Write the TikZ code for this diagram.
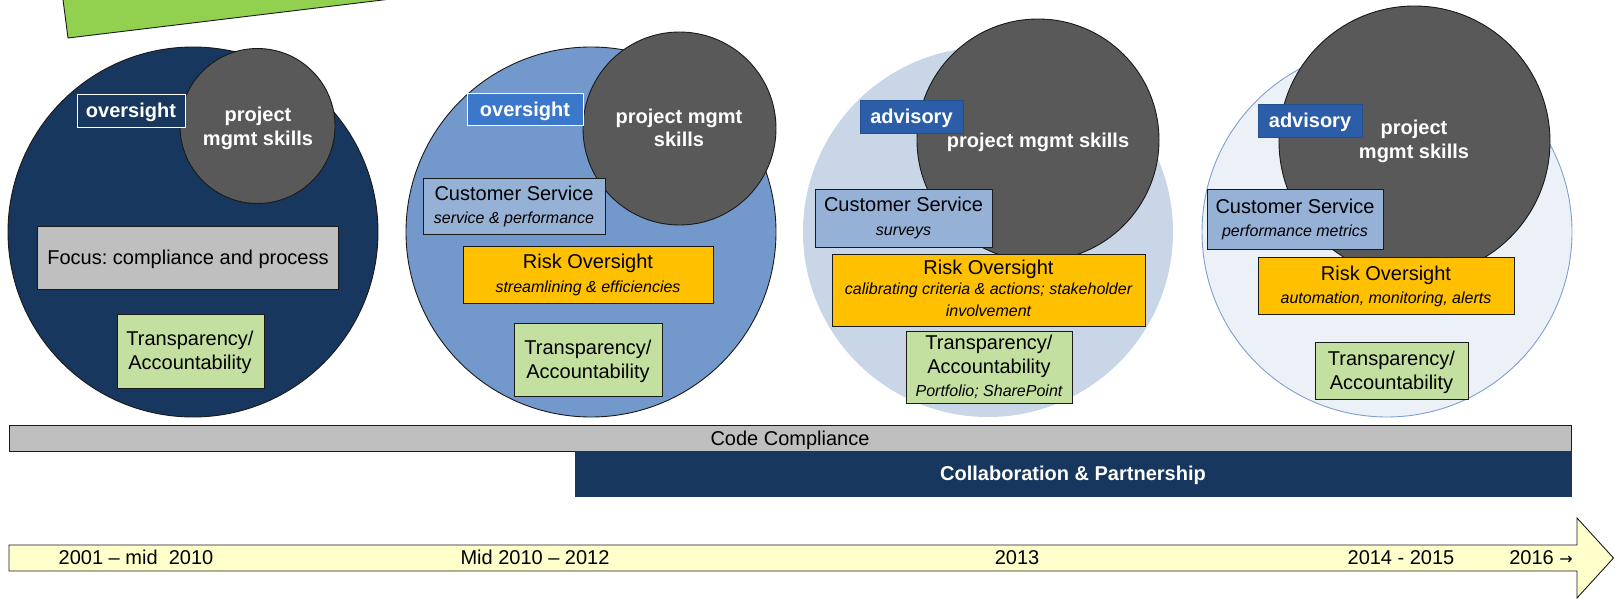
\documentclass[tikz,border=0pt]{standalone}
\usepackage{fontspec}
\setmainfont{Liberation Sans}
\newfontfamily\arrowfont{DejaVu Sans}
\frenchspacing
\definecolor{navy}{HTML}{17375E}
\definecolor{pmgray}{HTML}{595959}
\definecolor{focusgray}{HTML}{BFBFBF}
\definecolor{csblue}{HTML}{95B1D6}
\definecolor{riskor}{HTML}{FFC000}
\definecolor{trgreen}{HTML}{C4E0A0}
\definecolor{ovblue}{HTML}{3B78CB}
\definecolor{advblue}{HTML}{2B5DA8}
\definecolor{advborder}{HTML}{23508F}
\definecolor{arrowyellow}{HTML}{FFFFCC}
\definecolor{topgreen}{HTML}{92D050}
\definecolor{circtwo}{HTML}{7398CB}
\definecolor{circthree}{HTML}{C8D6E7}
\definecolor{circfour}{HTML}{ECF0F7}
\definecolor{circfourb}{HTML}{7F9FD0}
\definecolor{outline}{HTML}{1A1A1A}
\begin{document}
\begin{tikzpicture}[x=1pt,y=-1pt,
  bigc/.style={circle, inner sep=0pt, minimum size=370pt},
  pmc/.style={circle, inner sep=0pt, draw=outline, line width=0.9pt, fill=pmgray},
  box/.style={rectangle, inner sep=0pt, anchor=north west, draw=outline, line width=0.9pt},
  tx/.style={inner sep=0pt, text height=14.3pt, text depth=0pt, font=\fontsize{20}{24}\selectfont},
  tit/.style={inner sep=0pt, text height=11.5pt, text depth=0pt, font=\fontsize{16}{19}\selectfont\itshape},
  tw/.style={inner sep=0pt, text height=14.3pt, text depth=0pt, text=white, font=\fontsize{20}{24}\selectfont\bfseries},
]
\useasboundingbox (0,0) rectangle (1615,599);

% green shape at top
\coordinate (g1) at (62.4,-5);
\coordinate (g2) at (68,38);
\coordinate (g3) at (424,-5);
\draw[fill=topgreen, draw=outline, line width=0.9pt] (g1) -- (g2) -- (g3) -- cycle;

% big circles
\node[bigc, fill=navy, draw=outline, line width=0.9pt] (c1) at (193,232) {};
\node[bigc, fill=circtwo, draw=outline, line width=0.9pt] (c2) at (591,232) {};
\node[bigc, fill=circthree] (c3) at (988,232) {};
\node[bigc, fill=circfour, draw=circfourb, line width=0.9pt] (c4) at (1387,232) {};

% project mgmt circles
\node[pmc, minimum size=155pt] (p1) at (257.5,126) {};
\node[pmc, minimum size=193pt] (p2) at (679.5,128.5) {};
\node[pmc, minimum size=242pt] (p3) at (1038,140) {};
\node[pmc, minimum size=271pt] (p4) at (1414.5,141.5) {};

% role boxes
\node[box, fill=navy, draw=white, minimum width=108pt, minimum height=33pt] (ov1) at (77,94) {};
\node[box, fill=ovblue, draw=white, minimum width=116pt, minimum height=32pt] (ov2) at (467,93) {};
\node[box, fill=advblue, draw=advborder, minimum width=103pt, minimum height=33pt] (ad3) at (860,100) {};
\node[box, fill=advblue, draw=advborder, minimum width=104pt, minimum height=33pt] (ad4) at (1258,104) {};

% content boxes
\node[box, fill=focusgray, minimum width=301pt, minimum height=63pt] (fo1) at (37,226) {};
\node[box, fill=trgreen, minimum width=147pt, minimum height=74pt] (tr1) at (117,314) {};
\node[box, fill=csblue, minimum width=182pt, minimum height=56pt] (cs2) at (423,178) {};
\node[box, fill=riskor, minimum width=250pt, minimum height=57pt] (rk2) at (463,246) {};
\node[box, fill=trgreen, minimum width=148pt, minimum height=73pt] (tr2) at (514,323) {};
\node[box, fill=csblue, minimum width=177pt, minimum height=58pt] (cs3) at (815,189) {};
\node[box, fill=riskor, minimum width=313pt, minimum height=72pt] (rk3) at (832,254) {};
\node[box, fill=trgreen, minimum width=166pt, minimum height=72pt] (tr3) at (906,331) {};
\node[box, fill=csblue, minimum width=176pt, minimum height=60pt] (cs4) at (1207,189) {};
\node[box, fill=riskor, minimum width=256pt, minimum height=57pt] (rk4) at (1258,257) {};
\node[box, fill=trgreen, minimum width=153pt, minimum height=57pt] (tr4) at (1315,342) {};

% texts in circles
\node[tw] (ov1t) at (131,110.5) {oversight};
\node[tw] (p1a) at (258,114) {project};
\node[tw] (p1b) at (258,138) {mgmt skills};
\node[tx] (fo1t) at (188,257) {Focus: compliance and process};
\node[tx] (tr1a) at (190,338) {Transparency/};
\node[tx] (tr1b) at (190,362) {Accountability};

\node[tw] (ov2t) at (525,109) {oversight};
\node[tw] (p2a) at (679,116) {project mgmt};
\node[tw] (p2b) at (679,139) {skills};
\node[tx] (cs2a) at (514,193) {Customer Service};
\node[tit] (cs2b) at (514,217.5) {service \& performance};
\node[tx] (rk2a) at (588,261) {Risk Oversight};
\node[tit] (rk2b) at (588,286.5) {streamlining \& efficiencies};
\node[tx] (tr2a) at (588,347) {Transparency/};
\node[tx] (tr2b) at (588,371) {Accountability};

\node[tw] (ad3t) at (911.5,116.5) {advisory};
\node[tw] (p3t) at (1038,140) {project mgmt skills};
\node[tx] (cs3a) at (903.5,204) {Customer Service};
\node[tit] (cs3b) at (903.5,229.5) {surveys};
\node[tx] (rk3a) at (988.5,267) {Risk Oversight};
\node[tit] (rk3b) at (988.5,289) {calibrating criteria \& actions; stakeholder};
\node[tit] (rk3c) at (988.5,311) {involvement};
\node[tx] (tr3a) at (989,342) {Transparency/};
\node[tx] (tr3b) at (989,366) {Accountability};
\node[tit] (tr3c) at (989,390.5) {Portfolio; SharePoint};

\node[tw] (ad4t) at (1310,120) {advisory};
\node[tw] (p4a) at (1414,127.5) {project};
\node[tw] (p4b) at (1414,151) {mgmt skills};
\node[tx] (cs4a) at (1295,206) {Customer Service};
\node[tit] (cs4b) at (1295,230.5) {performance metrics};
\node[tx] (rk4a) at (1386,273) {Risk Oversight};
\node[tit] (rk4b) at (1386,297.5) {automation, monitoring, alerts};
\node[tx] (tr4a) at (1391.5,358) {Transparency/};
\node[tx] (tr4b) at (1391.5,382) {Accountability};

% bands
\node[box, fill=focusgray, minimum width=1562pt, minimum height=26pt] (code) at (9,425) {};
\node[tx] (codet) at (790,438) {Code Compliance};
\node[box, fill=navy, draw=navy, minimum width=996pt, minimum height=45pt] (collab) at (575,451) {};
\node[tw] (collabt) at (1073,473.5) {Collaboration \& Partnership};

% timeline arrow
\coordinate (a1) at (9,545);
\coordinate (a2) at (1577,545);
\coordinate (a3) at (1577,518);
\coordinate (a4) at (1613.5,558);
\coordinate (a5) at (1577,598);
\coordinate (a6) at (1577,571);
\coordinate (a7) at (9,571);
\draw[fill=arrowyellow, draw=outline, line width=0.9pt] (a1) -- (a2) -- (a3) -- (a4) -- (a5) -- (a6) -- (a7) -- cycle;
\node[tx] (y1) at (136,557.5) {2001 -- mid\ \ 2010};
\node[tx] (y2) at (535,557.5) {Mid 2010 -- 2012};
\node[tx] (y3) at (1017,557.5) {2013};
\node[tx] (y4) at (1401,557.5) {2014 - 2015};
\node[tx] (y5) at (1541,557.5) {2016 {\arrowfont\fontsize{16}{19}\selectfont →}};
\end{tikzpicture}
\end{document}
